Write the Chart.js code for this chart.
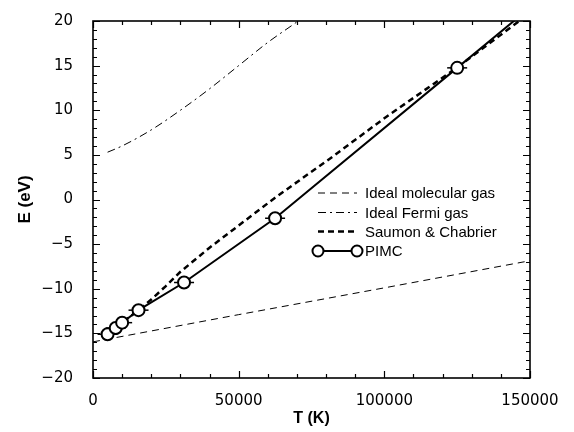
<!DOCTYPE html>
<html>
<head>
<meta charset="utf-8">
<script src="https://cdn.jsdelivr.net/npm/chart.js@4.4.1/dist/chart.umd.min.js"></script>
<style>
    html, body { margin: 0; padding: 0; background: #fff; }
    #wrap { width: 574px; height: 432px; }
</style>
</head>
<body>
<div id="wrap"><canvas id="energy-chart"></canvas></div>
<script>
// Temperature in K, internal energy in eV
const pimcT = [5000, 7800, 10000, 15625, 31250, 62500, 125000];
const pimcE = [-15.1, -14.4, -13.8, -12.4, -9.3, -2.1, 14.75];
// the PIMC line keeps going past the last point up to the frame
const pimcTailT = [150000];
const pimcTailE = [21.5];

const scT = [5000, 10000, 15000, 20000, 25000, 30000, 40000, 62500, 81400, 100000, 125000, 150000];
const scE = [-15.0, -13.8, -12.55, -11.2, -9.7, -8.1, -5.4, 0.2, 4.6, 9.1, 14.8, 20.9];

const molT = [0, 50000, 100000, 150000];
const molE = [-15.95, -12.9, -9.9, -6.86];

const fermiT = [5000, 10000, 20000, 30000, 40000, 50000, 60000, 70000, 75000];
const fermiE = [5.3, 6.0, 7.8, 10.0, 12.4, 15.0, 17.6, 19.9, 21.1];

const xTicks = [0, 50000, 100000, 150000];
const yTicks = [-20, -15, -10, -5, 0, 5, 10, 15, 20];

const legendLabels = ["Ideal molecular gas", "Ideal Fermi gas", "Saumon & Chabrier", "PIMC"];

const toPoints = (xs, ys) => xs.map((x, i) => ({ x: x, y: ys[i] }));

const tickFont = { family: "'DejaVu Sans', sans-serif", size: 15 };
const titleFamily = "'Liberation Sans', Arial, sans-serif";

// inward tick marks on all four sides plus the frame
const frameTicks = {
    id: 'frameTicks',
    afterDraw(chart) {
        const ctx = chart.ctx;
        const a = chart.chartArea;
        const xs = chart.scales.x, ys = chart.scales.y;
        ctx.save();
        ctx.strokeStyle = '#000';
        ctx.lineWidth = 1.2;
        ctx.beginPath();
        for (let v = -20; v <= 20; v++) {
            const y = Math.round(ys.getPixelForValue(v)) + 0.5;
            const len = v % 5 === 0 ? 7 : 4;
            ctx.moveTo(a.left, y); ctx.lineTo(a.left + len, y);
            ctx.moveTo(a.right, y); ctx.lineTo(a.right - len, y);
        }
        for (let v = 0; v <= 150000; v += 10000) {
            const x = Math.round(xs.getPixelForValue(v)) + 0.5;
            const len = v % 50000 === 0 ? 7 : 4;
            ctx.moveTo(x, a.bottom); ctx.lineTo(x, a.bottom - len);
            ctx.moveTo(x, a.top); ctx.lineTo(x, a.top + len);
        }
        ctx.stroke();
        ctx.lineWidth = 1.6;
        ctx.strokeRect(a.left, a.top, a.right - a.left, a.bottom - a.top);
        ctx.restore();
    }
};

// legend drawn inside the plot, right side
const innerLegend = {
    id: 'innerLegend',
    afterDraw(chart) {
        const ctx = chart.ctx;
        const x0 = 318, x1 = 357, tx = 365;
        const rows = [193, 212.5, 231.5, 251];
        ctx.save();
        ctx.strokeStyle = '#000';
        ctx.fillStyle = '#000';
        ctx.font = "15px 'Liberation Sans', Arial, sans-serif";
        ctx.textBaseline = 'middle';

        const sample = (y, dash, width) => {
            ctx.beginPath();
            ctx.setLineDash(dash);
            ctx.lineWidth = width;
            ctx.moveTo(x0, y); ctx.lineTo(x1, y);
            ctx.stroke();
        };
        sample(rows[0], [7, 5], 1);
        sample(rows[1], [8, 4, 2, 4], 1);
        sample(rows[2], [6, 4], 2.5);
        sample(rows[3], [], 2);
        ctx.setLineDash([]);
        [x0, x1].forEach(cx => {
            ctx.beginPath();
            ctx.arc(cx, rows[3], 5.5, 0, Math.PI * 2);
            ctx.fillStyle = '#fff';
            ctx.fill();
            ctx.lineWidth = 2;
            ctx.stroke();
        });
        ctx.fillStyle = '#000';
        legendLabels.forEach((t, i) => ctx.fillText(t, tx, rows[i] + 1));
        ctx.restore();
    }
};

const ctx = document.getElementById('energy-chart');

new Chart(ctx, {
    type: 'scatter',
    data: {
        datasets: [
            {
                label: 'PIMC',
                data: toPoints(pimcT.concat(pimcTailT), pimcE.concat(pimcTailE)),
                showLine: true,
                borderColor: '#000',
                borderWidth: 2,
                pointRadius: c => c.dataIndex < pimcT.length ? 6 : 0,
                pointBorderWidth: 2,
                pointBackgroundColor: '#fff',
                pointBorderColor: '#000'
            },
            {
                label: 'PIMC error',
                data: toPoints(pimcT, pimcE),
                showLine: false,
                pointStyle: 'line',
                pointRadius: 10,
                pointBorderWidth: 1.5,
                pointBorderColor: '#000'
            },
            {
                label: 'Saumon & Chabrier',
                data: toPoints(scT, scE),
                showLine: true,
                borderColor: '#000',
                borderWidth: 2.5,
                borderDash: [6, 4],
                pointRadius: 0
            },
            {
                label: 'Ideal Fermi gas',
                data: toPoints(fermiT, fermiE),
                showLine: true,
                borderColor: '#000',
                borderWidth: 1,
                borderDash: [8, 4, 2, 4],
                cubicInterpolationMode: 'monotone',
                pointRadius: 0
            },
            {
                label: 'Ideal molecular gas',
                data: toPoints(molT, molE),
                showLine: true,
                borderColor: '#000',
                borderWidth: 1,
                borderDash: [7, 5],
                pointRadius: 0
            }
        ]
    },
    options: {
        responsive: true,
        maintainAspectRatio: false,
        animation: false,
        layout: { padding: { top: 12, right: 44, left: 0, bottom: 0 } },
        plugins: {
            legend: { display: false },
            tooltip: { enabled: false }
        },
        scales: {
            x: {
                type: 'linear',
                min: 0,
                max: 150000,
                afterBuildTicks: s => { s.ticks = xTicks.map(v => ({ value: v })); },
                afterFit: s => { s.height = 54; },
                grid: { display: false },
                border: { display: false },
                ticks: {
                    color: '#000',
                    font: tickFont,
                    padding: 6,
                    maxRotation: 0,
                    callback: v => String(v)
                },
                title: {
                    display: true,
                    text: 'T (K)',
                    color: '#000',
                    font: { family: titleFamily, size: 16, weight: 'bold' },
                    padding: { top: 0, bottom: 4 }
                }
            },
            y: {
                type: 'linear',
                min: -20,
                max: 20,
                afterBuildTicks: s => { s.ticks = yTicks.map(v => ({ value: v })); },
                afterFit: s => { s.width = 93; },
                grid: { display: false },
                border: { display: false },
                ticks: {
                    color: '#000',
                    font: tickFont,
                    padding: 12,
                    callback: v => v < 0 ? '\u2212' + Math.abs(v) : String(v)
                },
                title: {
                    display: true,
                    text: 'E (eV)',
                    color: '#000',
                    font: { family: titleFamily, size: 17, weight: 'bold' },
                    padding: { top: 15, bottom: 0 }
                }
            }
        }
    },
    plugins: [frameTicks, innerLegend]
});
</script>
</body>
</html>
